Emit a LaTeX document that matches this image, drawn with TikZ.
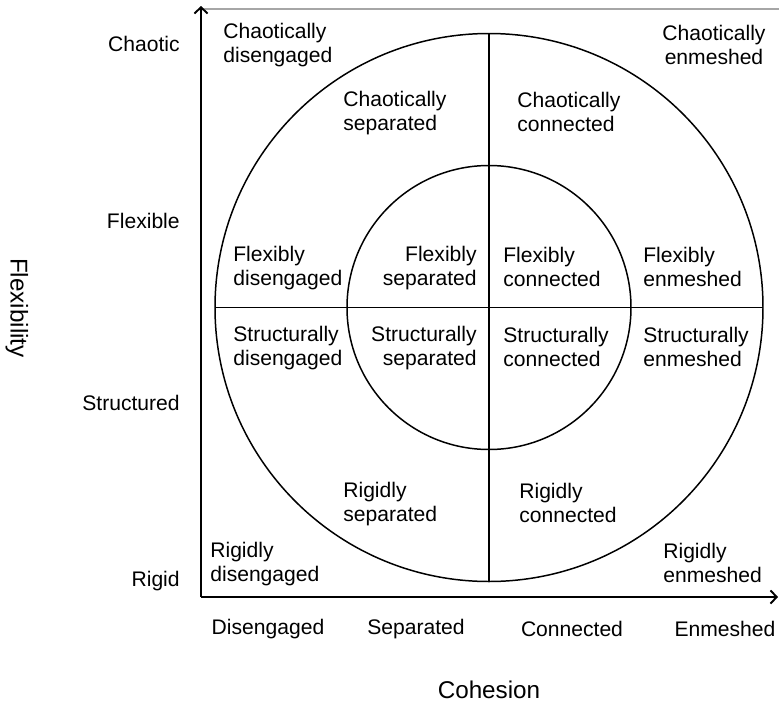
\documentclass[tikz,border=0pt]{standalone}
\usepackage{fontspec}
\setmainfont{Liberation Sans}
\usetikzlibrary{arrows.meta,calc}

\tikzset{
  cell/.style={inner sep=0pt, font=\fontsize{12}{13.8}\selectfont},
  lbl/.style={inner sep=0pt, font=\fontsize{12}{13.8}\selectfont},
  axtitle/.style={inner sep=0pt, font=\fontsize{13.8}{16}\selectfont},
  axis/.style={line width=1.1pt, -{Straight Barb[length=3.5pt,width=7.5pt]}},
  ring/.style={line width=0.85pt}
}

\begin{document}
\begin{tikzpicture}[x=0.02cm, y=-0.02cm]
  \useasboundingbox (0,0) rectangle (779,704);
  % 坐标轴与上方细线
  \coordinate (o) at (201,597);
  \coordinate (ytop) at (201,6);
  \coordinate (xend) at (778,597);
  \coordinate (tl) at (201,9);
  \coordinate (tr) at (779,9);
  \draw[gray!70, line width=0.8pt] (tl) -- (tr);
  \draw[axis] (o) -- (ytop);
  \draw[axis] (o) -- (xend);
  % 两个同心圆与十字线
  \coordinate (c) at (489,307.5);
  \coordinate (cl) at (215,307.5);
  \coordinate (cr) at (763,307.5);
  \coordinate (ct) at (489,33);
  \coordinate (cb) at (489,582);
  \draw[ring] (c) circle (274);
  \draw[ring] (c) circle (142);
  \draw[ring] (cl) -- (cr);
  \draw[ring] (ct) -- (cb);
  % 纵轴刻度文字
  \node[lbl, anchor=east] (chaotic) at (180,44) {Chaotic};
  \node[lbl, anchor=east] (flexible) at (180,221) {Flexible};
  \node[lbl, anchor=east] (structured) at (180,403) {Structured};
  \node[lbl, anchor=east] (rigid) at (180,581) {Rigid};
  % 横轴刻度文字
  \node[lbl] (diseng) at (268,629) {Disengaged};
  \node[lbl] (sep) at (416,629) {Separated};
  \node[lbl] (conn) at (572,629) {Connected};
  \node[lbl] (enm) at (725,629) {Enmeshed};
  % 轴标题
  \node[axtitle, rotate=-90] (flexibility) at (17,308) {Flexibility};
  \node[axtitle] (cohesion) at (489,690) {Cohesion};
  % 十六种类型
  \node[cell, anchor=west, align=left] (cd) at (223,45) {Chaotically\\disengaged};
  \node[cell, anchor=west, align=left] (cs) at (343,113) {Chaotically\\separated};
  \node[cell, anchor=west, align=left] (cc) at (517,112) {Chaotically\\connected};
  \node[cell, align=center] (ce) at (714,45) {Chaotically\\enmeshed};
  \node[cell, anchor=west, align=left] (fd) at (233,268) {Flexibly\\disengaged};
  \node[cell, anchor=east, align=right] (fs) at (477,268) {Flexibly\\separated};
  \node[cell, anchor=west, align=left] (fc) at (503,267) {Flexibly\\connected};
  \node[cell, anchor=west, align=left] (fe) at (643,267) {Flexibly\\enmeshed};
  \node[cell, anchor=west, align=left] (sd) at (233,348) {Structurally\\disengaged};
  \node[cell, anchor=east, align=right] (ss) at (477,348) {Structurally\\separated};
  \node[cell, anchor=west, align=left] (sc) at (503,347) {Structurally\\connected};
  \node[cell, anchor=west, align=left] (se) at (643,347) {Structurally\\enmeshed};
  \node[cell, anchor=west, align=left] (rs) at (343,504) {Rigidly\\separated};
  \node[cell, anchor=west, align=left] (rc) at (519,503) {Rigidly\\connected};
  \node[cell, anchor=west, align=left] (rd) at (210,564) {Rigidly\\disengaged};
  \node[cell, anchor=west, align=left] (re) at (663,563) {Rigidly\\enmeshed};
\end{tikzpicture}
\end{document}
